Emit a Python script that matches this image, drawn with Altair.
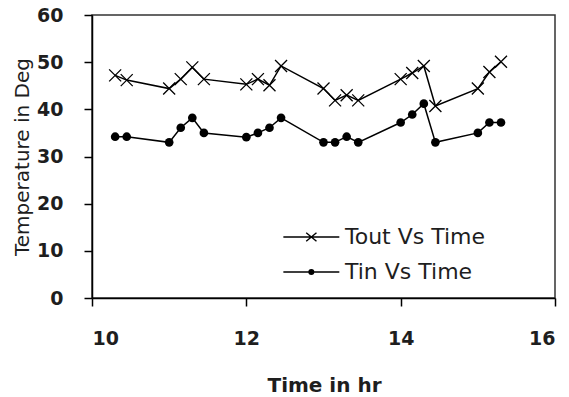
import altair as alt
import pandas as pd

times = [10.3, 10.45, 11.0, 11.15, 11.3, 11.45, 12.0, 12.15, 12.3, 12.45,
         13.0, 13.15, 13.3, 13.45, 14.0, 14.15, 14.3, 14.45, 15.0, 15.15, 15.3]
tout = [47.2, 46.2, 44.4, 46.4, 48.9, 46.4, 45.3, 46.4, 45.1, 49.2,
        44.4, 41.9, 43.0, 41.9, 46.4, 47.7, 49.2, 40.7, 44.4, 47.9, 50.1]
tin = [34.2, 34.2, 33.0, 36.1, 38.2, 35.0, 34.1, 35.0, 36.1, 38.2,
       33.0, 33.0, 34.2, 33.0, 37.2, 38.9, 41.2, 33.0, 35.0, 37.2, 37.2]
series_names = ["Tout Vs Time", "Tin Vs Time"]

rows = []
for t, v in zip(times, tout):
    rows.append({"time": t, "temp": v, "series": series_names[0]})
for t, v in zip(times, tin):
    rows.append({"time": t, "temp": v, "series": series_names[1]})
df = pd.DataFrame(rows)

FONT = "DejaVu Sans"
TXT = "#1e1e1e"

x_enc = alt.X("time:Q",
              scale=alt.Scale(domain=[10, 16], nice=False, zero=False),
              axis=alt.Axis(values=[10, 12, 14, 16], format="d", title="Time in hr",
                            titleFont=FONT, titleFontSize=20, titleFontWeight="bold",
                            titleColor=TXT, titleX=232, titleY=87,
                            titleBaseline="middle",
                            labelBaseline="middle", labelPadding=32,
                            labelFont=FONT, labelFontSize=19, labelFontWeight="bold",
                            labelColor=TXT))
y_enc = alt.Y("temp:Q",
              scale=alt.Scale(domain=[0, 60], nice=False),
              axis=alt.Axis(values=[0, 10, 20, 30, 40, 50, 60], format="d",
                            title="Temperature in Deg",
                            titleFont=FONT, titleFontSize=20, titleFontWeight="normal",
                            titleColor=TXT, titleX=-70, titleY=141.5,
                            titleAngle=270, titleAlign="center", titleBaseline="middle",
                            labelPadding=21,
                            labelFont=FONT, labelFontSize=19, labelFontWeight="bold",
                            labelColor=TXT))

lines = alt.Chart(df).mark_line(color="black", strokeWidth=1.5).encode(
    x=x_enc, y=y_enc, detail="series:N")

x_path = "M-1,-1L1,1M-1,1L1,-1"
pts_out = alt.Chart(df).transform_filter(
    alt.datum.series == series_names[0]).mark_point(
    shape=x_path, size=144, filled=False, color="black", strokeWidth=1.3, opacity=1
).encode(x="time:Q", y="temp:Q")

pts_in = alt.Chart(df).transform_filter(
    alt.datum.series == series_names[1]).mark_point(
    shape="circle", size=75, filled=True, color="black", opacity=1
).encode(x="time:Q", y="temp:Q")

leg_out = "M-5,0H1M-2.55,-0.45L-1.45,0.45M-2.55,0.45L-1.45,-0.45"
leg_in = ("M-5,0H1"
          "M-1.75,0A0.25,0.25 0 1,1 -2.25,0A0.25,0.25 0 1,1 -1.75,0Z"
          "M-1.88,0A0.12,0.12 0 1,1 -2.12,0A0.12,0.12 0 1,1 -1.88,0Z")

legend_layer = alt.Chart(df).transform_filter("false").mark_point(
    filled=False, color="black", opacity=1, strokeWidth=1.4
).encode(
    x="time:Q", y="temp:Q",
    shape=alt.Shape("series:N",
                    scale=alt.Scale(domain=series_names, range=[leg_out, leg_in]),
                    legend=alt.Legend(title=None, orient="none",
                                      legendX=227, legendY=211,
                                      padding=0, rowPadding=13,
                                      symbolSize=348, symbolOpacity=1,
                                      symbolStrokeColor="black",
                                      symbolStrokeWidth=1.4,
                                      labelOffset=4,
                                      labelFont=FONT, labelFontSize=22,
                                      labelColor=TXT, labelLimit=300)))

chart = alt.layer(lines, pts_out, pts_in, legend_layer).properties(
    width=463, height=283,
    autosize=alt.AutoSizeParams(type="none"),
    padding={"left": 92, "top": 15, "right": 14, "bottom": 99},
    background="white",
).configure_view(
    stroke="#333333", strokeWidth=1.5
).configure_axis(
    grid=False, domainColor="black", domainWidth=1.5,
    tickColor="black", tickWidth=1.5, tickSize=8
)

chart.save("out.html", embed_options={"renderer": "svg", "actions": False})
